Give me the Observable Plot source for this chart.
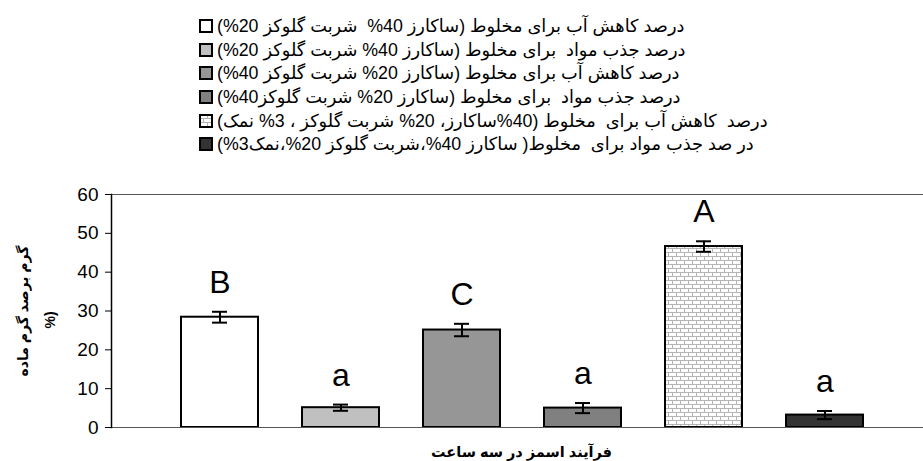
<!DOCTYPE html>
<html>
<head>
<meta charset="utf-8">
<script src="https://cdn.jsdelivr.net/npm/d3@7"></script>
<script src="https://cdn.jsdelivr.net/npm/@observablehq/plot@0.6"></script>
<style>
  body { margin: 0; background: #fff; font-family: "Liberation Sans", "DejaVu Sans", sans-serif; }
  #legend { height: 160px; box-sizing: border-box; padding-top: 14px; padding-left: 199px; }
  .row { display: flex; align-items: center; height: 23.7px; }
  .row svg { flex: none; }
  .row span { margin-left: 4px; font-size: 17.8px; white-space: pre; color: #000; }
</style>
</head>
<body>
<svg width="0" height="0" style="position:absolute">
  <defs>
    <pattern id="brick" width="8" height="8" patternUnits="userSpaceOnUse">
      <rect width="8" height="8" fill="#fff"/>
      <path d="M0 0.5H8M0 4.5H8M0.5 0V4.5M4.5 4.5V8" stroke="#b4b4b4" stroke-width="1" fill="none"/>
    </pattern>
  </defs>
</svg>
<div id="legend"></div>
<div id="chart"></div>
<script>
const series = [
  "درصد کاهش آب برای مخلوط (ساکارز 40%  شربت گلوکز 20%)",
  "درصد جذب مواد  برای مخلوط (ساکارز 40% شربت گلوکز 20%)",
  "درصد کاهش آب برای مخلوط (ساکارز 20% شربت گلوکز 40%)",
  "درصد جذب مواد  برای مخلوط (ساکارز 20% شربت گلوکز40%)",
  "درصد  کاهش آب برای  مخلوط (40%ساکارز، 20% شربت گلوکز ، 3% نمک)",
  "در صد جذب مواد برای  مخلوط( ساکارز 40%،شربت گلوکز 20%،نمک3%)"
];
const values = [28.4, 5.1, 25.1, 5.0, 46.6, 3.2];
const errors = [1.4, 0.8, 1.6, 1.3, 1.35, 1.05];
const letters = ["B", "a", "C", "a", "A", "a"];
const yTicks = [0, 10, 20, 30, 40, 50, 60];
const xTitle = "فرآیند اسمز در سه ساعت";
const yTitle1 = "گرم برصد گرم ماده";
const yTitle2 = "%)";

const palette = ["#ffffff", "#c0c0c0", "#969696", "#808080", "url(#brick)", "#333333"];

const data = series.map((s, i) => ({name: s, v: values[i], e: errors[i], letter: letters[i]}));

// legend
const legend = document.getElementById("legend");
series.forEach((s, i) => {
  const row = document.createElement("div");
  row.className = "row";
  row.innerHTML = `<svg width="14" height="14"><rect x="1" y="1" width="12" height="12" fill="${palette[i]}" stroke="#000" stroke-width="2"/></svg>`;
  const t = document.createElement("span");
  t.setAttribute("dir", "rtl");
  t.textContent = s;
  row.appendChild(t);
  legend.appendChild(row);
});

const chart = Plot.plot({
  width: 923,
  height: 301,
  marginTop: 34,
  marginBottom: 34,
  marginLeft: 111,
  marginRight: 0,
  style: {fontFamily: "'Liberation Sans', 'DejaVu Sans', sans-serif", background: "#fff", color: "#000"},
  x: {type: "band", domain: series, range: [156.7, 886.3], paddingInner: 0.367, paddingOuter: 0.1835, axis: null},
  y: {domain: [0, 60], axis: null},
  color: {type: "ordinal", domain: series, range: palette},
  marks: [
    Plot.ruleY([60], {stroke: "#555", strokeWidth: 1.2}),
    Plot.barY(data, {x: "name", y: "v", fill: "name", stroke: "#000", strokeWidth: 2}),
    Plot.ruleY([0], {stroke: "#555", strokeWidth: 1.2}),
    Plot.ruleX(data, {x: "name", y1: d => d.v - d.e, y2: d => d.v + d.e, stroke: "#000", strokeWidth: 2}),
    Plot.tickY(data, {x: "name", y: d => d.v + d.e, insetLeft: 31, insetRight: 31, stroke: "#000", strokeWidth: 2}),
    Plot.tickY(data, {x: "name", y: d => d.v - d.e, insetLeft: 31, insetRight: 31, stroke: "#000", strokeWidth: 2}),
    Plot.text(data, {x: "name", y: d => d.v + d.e, text: "letter", dy: -19, lineAnchor: "bottom", fontSize: 32, fill: "#000"}),
    Plot.axisY({ticks: yTicks, tickSize: 6, tickPadding: 7, fontSize: 19, label: null, stroke: "#000"}),
    Plot.frame({anchor: "left", stroke: "#000", strokeWidth: 1.5}),
    Plot.text([xTitle], {frameAnchor: "bottom", dy: 19, lineAnchor: "top", fontSize: 14.5, fontWeight: "bold", fill: "#000", textAnchor: "middle", dx: 4}),
    Plot.text([yTitle1], {frameAnchor: "left", dx: -88, rotate: -90, lineAnchor: "middle", textAnchor: "middle", fontSize: 14, fontWeight: "bold", fill: "#000"}),
    Plot.text([yTitle2], {frameAnchor: "left", dx: -61, dy: 9, rotate: -90, lineAnchor: "middle", textAnchor: "middle", fontSize: 14, fontWeight: "bold", fill: "#000"})
  ]
});
document.getElementById("chart").appendChild(chart);
</script>
</body>
</html>
